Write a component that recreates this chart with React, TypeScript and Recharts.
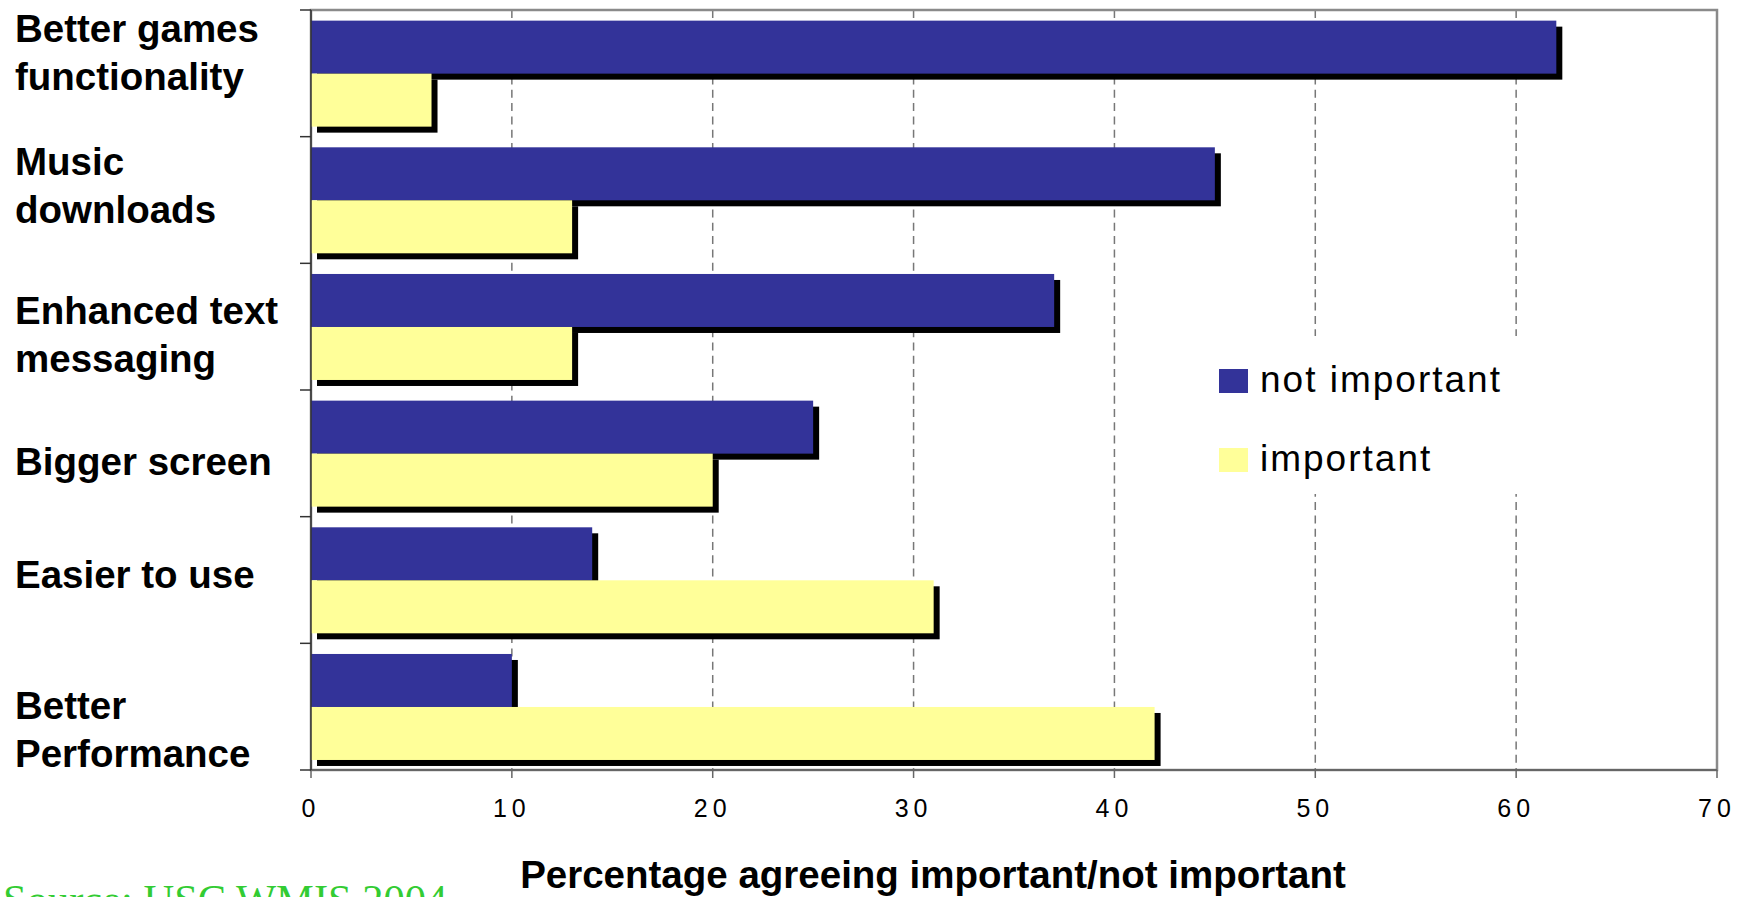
import React from 'react';
import {
  BarChart,
  Bar,
  XAxis,
  YAxis,
  CartesianGrid,
  Legend,
  ReferenceArea,
} from 'recharts';

// ---- data ----
const CATEGORIES = [
  'Better games\nfunctionality',
  'Music\ndownloads',
  'Enhanced text\nmessaging',
  'Bigger screen',
  'Easier to use',
  'Better\nPerformance',
];
const NOT_IMPORTANT = [62, 45, 37, 25, 14, 10];
const IMPORTANT = [6, 13, 13, 20, 31, 42];
const SERIES_NAMES = ['not important', 'important'];
const X_TICKS = [0, 10, 20, 30, 40, 50, 60, 70];
const AXIS_TITLE = 'Percentage agreeing important/not important';
const SOURCE_NOTE = 'Source: USC WMIS 2004';

// ---- layout / style ----
const WIDTH = 1740;
const HEIGHT = 897;
const MARGIN = { top: 10, right: 23, bottom: 0, left: 0 };
const Y_AXIS_WIDTH = 311;
const X_AXIS_HEIGHT = 127;
const BAND = (HEIGHT - MARGIN.top - MARGIN.bottom - X_AXIS_HEIGHT) / CATEGORIES.length;

const SANS = '"Liberation Sans", Arial, Helvetica, sans-serif';
const SERIF = '"Liberation Serif", "Times New Roman", serif';
const BLUE = '#333399';
const YELLOW = '#FFFF99';

// first-line baseline of each category label, relative to its band centre
const LABEL_SHIFT = [-31, -25, -3, 22, 8, 12];
const LABEL_LINE_HEIGHT = 48;
const LABEL_X = 15;

const rows = CATEGORIES.map((name, i) => ({
  name,
  notImportant: NOT_IMPORTANT[i],
  important: IMPORTANT[i],
}));

// bar with a hard black drop shadow offset down-right
const ShadowBar = (props: any) => {
  const { x, y, width, height, fill } = props;
  if (width == null || height == null) return null;
  return (
    <g>
      <rect x={x + 6} y={y + 6} width={width} height={height} fill="#000" />
      <rect x={x} y={y} width={width} height={height} fill={fill} />
    </g>
  );
};

const CategoryTick = (props: any) => {
  const { x, y, payload, index } = props;
  const lines = String(payload.value).split('\n');
  const half = BAND / 2;
  const last = index === CATEGORIES.length - 1;
  return (
    <g>
      <line x1={x - 11} x2={x} y1={y - half} y2={y - half} stroke="#333" strokeWidth={1.5} />
      {last && (
        <line x1={x - 11} x2={x} y1={y + half} y2={y + half} stroke="#333" strokeWidth={1.5} />
      )}
      <text
        x={LABEL_X}
        y={y + LABEL_SHIFT[index]}
        fill="#000"
        fontFamily={SANS}
        fontWeight="bold"
        fontSize={38.5}
        textAnchor="start"
      >
        {lines.map((ln, k) => (
          <tspan key={k} x={LABEL_X} dy={k === 0 ? 0 : LABEL_LINE_HEIGHT}>
            {ln}
          </tspan>
        ))}
      </text>
    </g>
  );
};

const ValueTick = (props: any) => {
  const { x, y, payload } = props;
  return (
    <text
      x={x}
      y={y}
      dy={37}
      textAnchor="middle"
      fill="#000"
      fontFamily={SANS}
      fontSize={25}
      letterSpacing={5}
    >
      {payload.value}
    </text>
  );
};

const renderAxisTitle = (props: any) => {
  const vb = props.viewBox || {};
  return (
    <text
      x={vb.x + vb.width / 2 - 81}
      y={vb.y + 118}
      textAnchor="middle"
      fill="#000"
      fontFamily={SANS}
      fontWeight="bold"
      fontSize={38.5}
    >
      {AXIS_TITLE}
    </text>
  );
};

const LEGEND_BOX = { left: 1200, top: 336, width: 340, height: 158 };

const renderLegend = (props: any) => {
  const payload = [...(props.payload || [])].sort(
    (a: any, b: any) => SERIES_NAMES.indexOf(a.value) - SERIES_NAMES.indexOf(b.value)
  );
  return (
    <svg width={LEGEND_BOX.width} height={LEGEND_BOX.height} style={{ display: 'block' }}>
      <rect x={0} y={0} width={LEGEND_BOX.width} height={LEGEND_BOX.height} fill="#fff" />
      {payload.map((entry: any, i: number) => {
        const top = 33 + i * 79;
        const color = entry.color || (entry.payload && entry.payload.fill);
        return (
          <g key={entry.value}>
            <rect x={19} y={top} width={29} height={24} fill={color} />
            <text
              x={60}
              y={top + 22.5}
              fill="#000"
              fontFamily={SANS}
              fontSize={37}
              letterSpacing={2}
            >
              {entry.value}
            </text>
          </g>
        );
      })}
    </svg>
  );
};

export default function App() {
  return (
    <div
      style={{
        position: 'absolute',
        left: 0,
        top: 0,
        width: WIDTH,
        height: HEIGHT,
        overflow: 'hidden',
        background: '#fff',
      }}
    >
      <BarChart
        width={WIDTH}
        height={HEIGHT}
        data={rows}
        layout="vertical"
        margin={MARGIN}
        barCategoryGap="8.4%"
        barGap={0}
      >
        <CartesianGrid
          horizontal={false}
          vertical
          stroke="#777"
          strokeWidth={1.5}
          strokeDasharray="8 5.3"
        />
        <ReferenceArea x1={0} x2={70} fill="none" stroke="#8a8a8a" strokeWidth={2.5} />
        <XAxis
          type="number"
          domain={[0, 70]}
          ticks={X_TICKS}
          interval={0}
          height={X_AXIS_HEIGHT}
          axisLine={{ stroke: '#666', strokeWidth: 2 }}
          tickLine={{ stroke: '#666', strokeWidth: 1.5 }}
          tickSize={8}
          tickMargin={2}
          tick={<ValueTick />}
          label={renderAxisTitle}
        />
        <YAxis
          type="category"
          dataKey="name"
          width={Y_AXIS_WIDTH}
          interval={0}
          axisLine={{ stroke: '#333', strokeWidth: 1.5 }}
          tickLine={false}
          tickSize={0}
          tickMargin={0}
          tick={<CategoryTick />}
        />
        <Legend
          layout="vertical"
          align="center"
          verticalAlign="middle"
          content={renderLegend}
          wrapperStyle={{
            position: 'absolute',
            left: LEGEND_BOX.left,
            top: LEGEND_BOX.top,
            width: LEGEND_BOX.width,
            height: LEGEND_BOX.height,
          }}
        />
        <Bar
          dataKey="notImportant"
          name={SERIES_NAMES[0]}
          fill={BLUE}
          shape={<ShadowBar />}
          isAnimationActive={false}
        />
        <Bar
          dataKey="important"
          name={SERIES_NAMES[1]}
          fill={YELLOW}
          shape={<ShadowBar />}
          isAnimationActive={false}
        />
      </BarChart>
      <div
        style={{
          position: 'absolute',
          left: 3,
          top: 879.4,
          fontFamily: SERIF,
          fontSize: 42.5,
          lineHeight: '42.5px',
          color: '#33CC33',
          whiteSpace: 'nowrap',
        }}
      >
        {SOURCE_NOTE}
      </div>
    </div>
  );
}
